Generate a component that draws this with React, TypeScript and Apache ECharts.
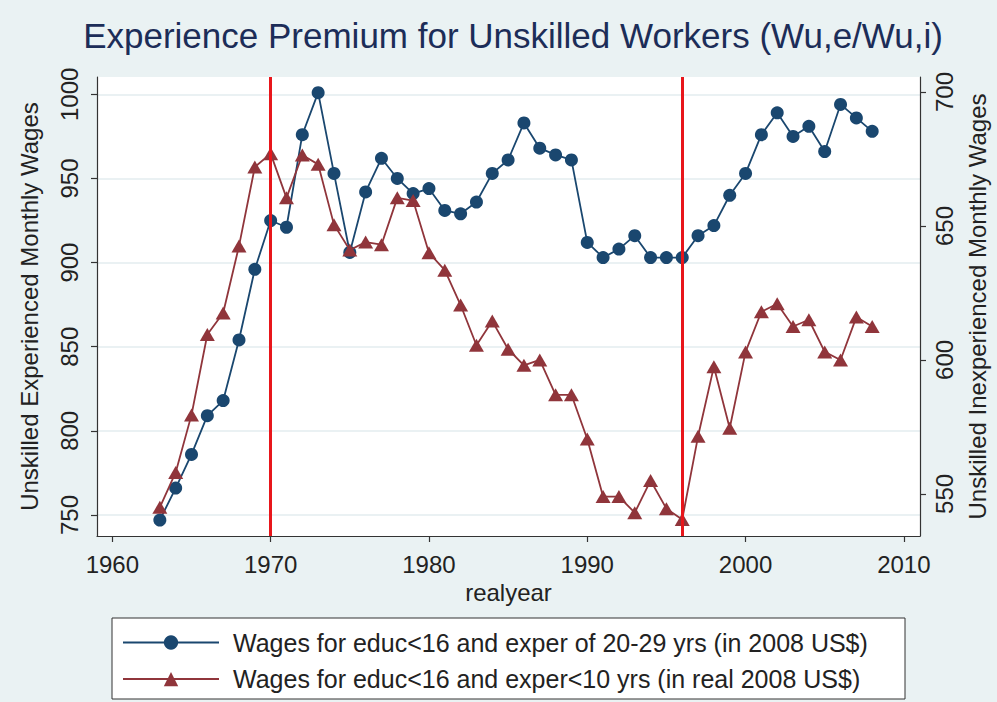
import { useEffect, useRef } from "react";
import * as echarts from "echarts";

const years = [
  1963, 1964, 1965, 1966, 1967, 1968, 1969, 1970, 1971, 1972, 1973, 1974, 1975, 1976, 1977, 1978,
  1979, 1980, 1981, 1982, 1983, 1984, 1985, 1986, 1987, 1988, 1989, 1990, 1991, 1992, 1993, 1994,
  1995, 1996, 1997, 1998, 1999, 2000, 2001, 2002, 2003, 2004, 2005, 2006, 2007, 2008,
];

// Left axis: experienced (20-29 yrs) wages
const experiencedWages = [
  747, 766, 786, 809, 818, 854, 896, 925, 921, 976, 1001, 953, 906, 942, 962, 950,
  941, 944, 931, 929, 936, 953, 961, 983, 968, 964, 961, 912, 903, 908, 916, 903,
  903, 903, 916, 922, 940, 953, 976, 989, 975, 981, 966, 994, 986, 978,
];

// Right axis: inexperienced (<10 yrs) wages
const inexperiencedWages = [
  545, 558, 579.5, 609.5, 617.5, 642.5, 672, 677, 660.5, 676.5, 673, 650.5, 641, 644, 643, 660.5,
  659.5, 640, 633.5, 620.5, 605.5, 614.5, 604, 598, 600, 587, 587, 570.5, 549, 549, 543, 555,
  544.5, 540.5, 571.5, 597.5, 574.5, 603, 618, 621, 612.5, 615, 603, 600, 616, 612.5,
];

const markerYears = [1970, 1996];
const xTicks = [1960, 1970, 1980, 1990, 2000, 2010];
const leftTicks = [750, 800, 850, 900, 950, 1000];
const rightTicks = [550, 600, 650, 700];

const seriesNames = [
  "Wages for educ<16 and exper of 20-29 yrs (in 2008 US$)",
  "Wages for educ<16 and exper<10 yrs (in real 2008 US$)",
];

const plain = (v: number) => String(v);

export default function App() {
  const ref = useRef<HTMLDivElement>(null);
  useEffect(() => {
    const chart = echarts.init(ref.current!, null, { renderer: "svg" });
    const font = "'Liberation Sans', Arial, sans-serif";
    const txt = "#222222";
    const axisColor = "#333333";
    chart.setOption({
      animation: false,
      backgroundColor: "#eaf2f3",
      textStyle: { fontFamily: font },
      title: {
        text: "Experience Premium for Unskilled Workers (Wu,e/Wu,i)",
        left: 508,
        top: 13,
        textAlign: "center",
        textStyle: { fontSize: 35, fontWeight: "normal", color: "#1c2d58", fontFamily: font },
      },
      graphic: [
        {
          type: "rect",
          z: 0,
          shape: { x: 112, y: 618, width: 793, height: 81 },
          style: { fill: "#ffffff", stroke: "#333333", lineWidth: 1 },
        },
      ],
      legend: {
        orient: "vertical",
        left: 122,
        top: 630,
        padding: 0,
        itemWidth: 96,
        itemHeight: 18,
        itemGap: 11.6,
        data: seriesNames,
        textStyle: { fontSize: 25, color: txt, lineHeight: 24, padding: [0, 0, 0, 9], fontFamily: font },
      },
      grid: {
        left: 97,
        right: 77,
        top: 77,
        bottom: 166,
        show: true,
        backgroundColor: "#ffffff",
        borderWidth: 0,
      },
      xAxis: {
        type: "value",
        min: 1959.03,
        max: 2011.02,
        name: "realyear",
        nameLocation: "middle",
        nameGap: 43,
        nameTextStyle: { fontSize: 24, color: txt, fontFamily: font },
        axisLine: { show: true, onZero: false, lineStyle: { color: axisColor, width: 1.2 } },
        axisTick: { show: true, customValues: xTicks, length: 6, lineStyle: { color: axisColor, width: 1.2 } },
        axisLabel: { customValues: xTicks, formatter: plain, fontSize: 24, color: txt, margin: 16, fontFamily: font },
        splitLine: { show: false },
      },
      yAxis: [
        {
          type: "value",
          position: "left",
          min: 737.5,
          max: 1010.3,
          name: "Unskilled Experienced Monthly Wages",
          nameLocation: "middle",
          nameRotate: 90,
          nameGap: 56,
          nameTextStyle: { fontSize: 24, color: txt, fontFamily: font },
          axisLine: { show: true, onZero: false, lineStyle: { color: axisColor, width: 1.2 } },
          axisTick: { show: true, customValues: leftTicks, length: 6, lineStyle: { color: axisColor, width: 1.2 } },
          axisLabel: { customValues: leftTicks, formatter: plain, rotate: 90, fontSize: 24, color: txt, margin: 16, fontFamily: font },
          splitLine: { show: true, lineStyle: { color: "#e3edef", width: 1.6 } },
        },
        {
          type: "value",
          position: "right",
          min: 534.3,
          max: 705.6,
          name: "Unskilled Inexperienced Monthly Wages",
          nameLocation: "middle",
          nameRotate: 90,
          nameGap: 45,
          nameTextStyle: { fontSize: 24, color: txt, fontFamily: font },
          axisLine: { show: true, onZero: false, lineStyle: { color: axisColor, width: 1.2 } },
          axisTick: { show: true, customValues: rightTicks, length: 6, lineStyle: { color: axisColor, width: 1.2 } },
          axisLabel: { customValues: rightTicks, formatter: plain, rotate: 90, fontSize: 24, color: txt, margin: 12, fontFamily: font },
          splitLine: { show: false },
        },
      ],
      series: [
        {
          name: seriesNames[0],
          type: "line",
          yAxisIndex: 0,
          data: years.map((y, i) => [y, experiencedWages[i]]),
          symbol: "circle",
          symbolSize: 13,
          lineStyle: { color: "#1a476f", width: 1.8 },
          itemStyle: { color: "#1a476f" },
          z: 2,
        },
        {
          name: seriesNames[1],
          type: "line",
          yAxisIndex: 1,
          data: years.map((y, i) => [y, inexperiencedWages[i]]),
          symbol: "triangle",
          symbolSize: [15, 13],
          lineStyle: { color: "#90353b", width: 1.8 },
          itemStyle: { color: "#90353b" },
          z: 3,
        },
        {
          name: "markers",
          type: "line",
          yAxisIndex: 0,
          data: [],
          z: 5,
          markLine: {
            silent: true,
            symbol: ["none", "none"],
            label: { show: false },
            lineStyle: { color: "#e8161b", width: 3, type: "solid" },
            data: markerYears.map((y) => ({ xAxis: y })),
          },
        },
      ],
    });
    return () => chart.dispose();
  }, []);
  return (
    <div
      ref={ref}
      style={{ position: "fixed", left: 0, top: 0, width: 997, height: 702, background: "#eaf2f3" }}
    />
  );
}
